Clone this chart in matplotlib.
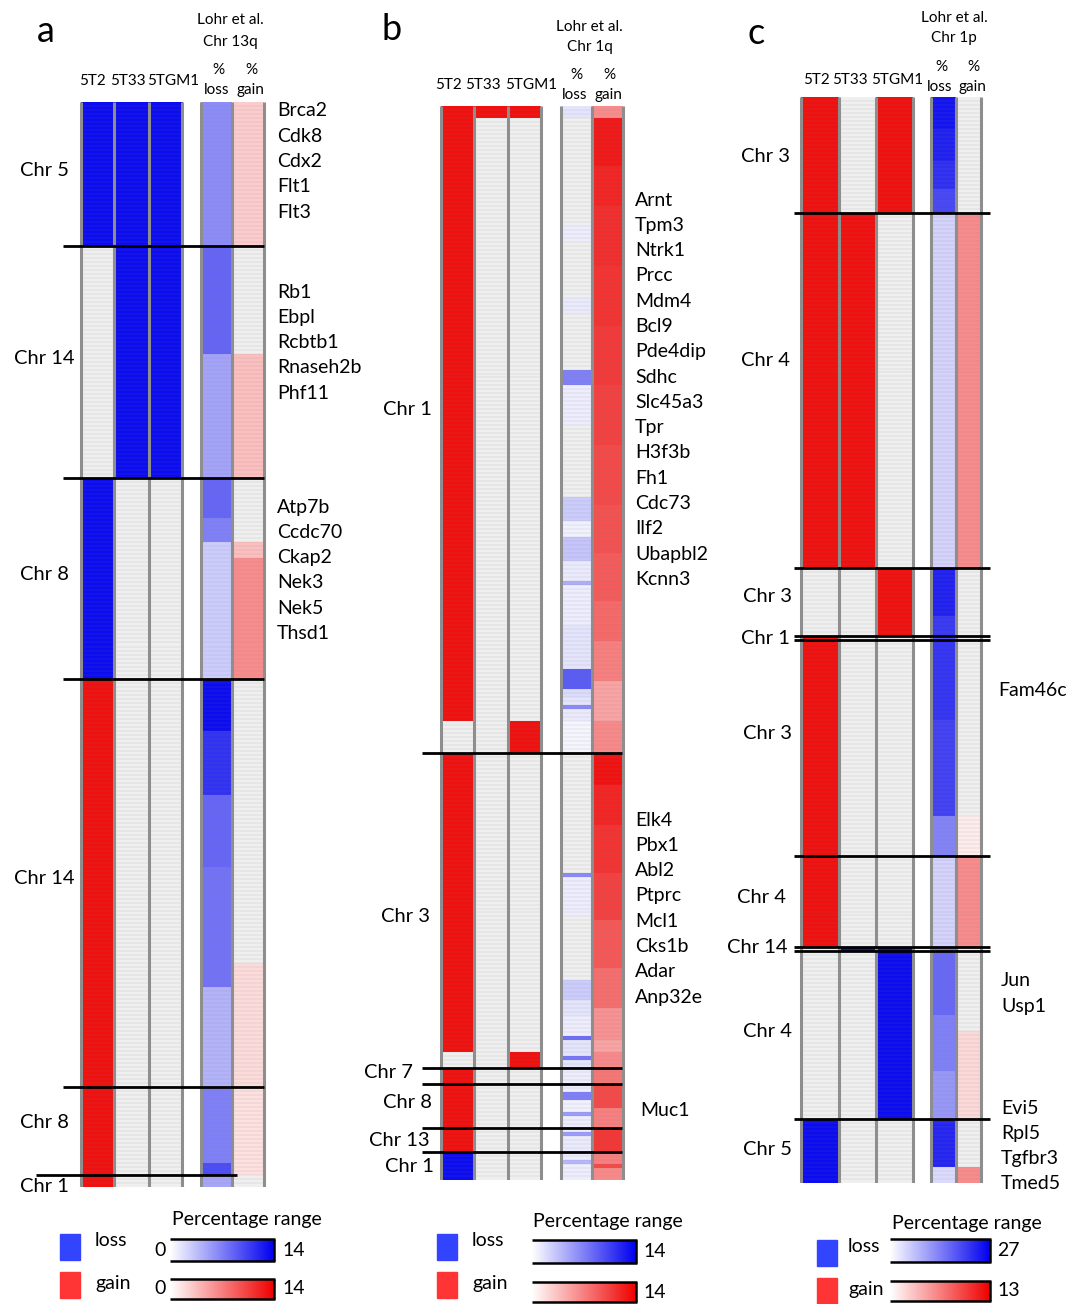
import numpy as np
import matplotlib
matplotlib.use("Agg")
import matplotlib.pyplot as plt
from matplotlib.colors import LinearSegmentedColormap, to_rgb
from matplotlib.patches import Rectangle

plt.rcParams["font.family"] = ["Lato", "DejaVu Sans"]

W, H = 1067, 1304

# ---------------- data ----------------
# each column is written as runs of gene rows: (number of rows, value)
# cell lines: -1 = loss, 0 = no change, 1 = gain
# Lohr et al. columns: % of patients with loss / gain
CELL_LINES = ["5T2", "5T33", "5TGM1"]

# a) Lohr et al. Chr 13q
A_REGION = "Chr 13q"
A_ROWS = 271
A_BOUNDS = [36, 94, 144, 246, 268]
A_CHR = ["Chr 5", "Chr 14", "Chr 8", "Chr 14", "Chr 8", "Chr 1"]
A_5T2 = [(36, -1), (58, 0), (50, -1), (127, 1)]
A_5T33 = [(94, -1), (177, 0)]
A_5TGM1 = [(94, -1), (177, 0)]
A_LOSS = [(36, 6.3), (27, 8.5), (31, 5.0), (10, 8.4), (6, 7.0), (34, 2.8),
          (13, 13.3), (16, 11.2), (18, 8.4), (30, 7.7), (25, 4.2),
          (19, 7.0), (3, 9.8), (3, 4.9)]
A_GAIN = [(36, 2.8), (27, 0), (31, 3.5), (16, 0), (4, 3.5), (30, 6.3),
          (71, 0), (31, 2.0), (22, 1.7), (3, 0)]
A_MAX = (14, 14)
A_GENES = [["Brca2", "Cdk8", "Cdx2", "Flt1", "Flt3"],
           ["Rb1", "Ebpl", "Rcbtb1", "Rnaseh2b", "Phf11"],
           ["Atp7b", "Ccdc70", "Ckap2", "Nek3", "Nek5", "Thsd1"]]

# b) Lohr et al. Chr 1q
B_REGION = "Chr 1q"
B_ROWS = 269
B_BOUNDS = [162, 241, 245, 256, 262]
B_CHR = ["Chr 1", "Chr 3", "Chr 7", "Chr 8", "Chr 13", "Chr 1"]
B_5T2 = [(154, 1), (8, 0), (75, 1), (4, 0), (21, 1), (7, -1)]
B_5T33 = [(3, 1), (266, 0)]
B_5TGM1 = [(3, 1), (151, 0), (8, 1), (75, 0), (4, 1), (28, 0)]
B_LOSS = [(3, 1.5), (27, 0), (4, 1.0), (14, 0), (4, 1.2), (14, 0), (4, 7.0),
          (10, 1.0), (18, 0), (6, 2.8), (4, 0.8), (6, 3.2), (5, 1.2), (1, 4.5),
          (10, 1.0), (11, 1.5), (5, 9.0), (2, 2.0), (2, 1.5), (1, 6.5), (3, 1.2),
          (8, 0.6),
          (30, 0), (1, 6.5), (10, 1.0), (16, 0), (5, 2.8), (4, 1.5), (5, 1.0),
          (1, 8.0), (4, 1.5), (1, 7.5), (2, 1.5),
          (4, 1.0),
          (2, 1.0), (2, 7.0), (3, 0.8), (1, 5.5), (3, 1.0),
          (1, 1.0), (1, 5.5), (4, 1.2),
          (2, 1.0), (1, 4.0), (4, 1.0)]
B_GAIN = [(3, 6.3), (12, 12.6), (10, 12.0), (15, 11.5), (15, 11.2), (15, 10.8),
          (15, 10.4), (15, 10.0), (12, 9.5), (12, 9.0), (10, 8.2), (10, 7.0),
          (10, 5.0), (8, 6.5),
          (8, 13.0), (10, 12.0), (12, 11.2), (12, 10.4), (12, 9.2), (10, 8.0),
          (8, 6.0), (3, 5.0), (4, 6.5),
          (4, 7.5),
          (6, 10.0), (5, 7.0),
          (6, 11.0),
          (3, 7.0), (1, 10.0), (3, 6.5)]
B_MAX = (14, 14)
B_GENES = [["Arnt", "Tpm3", "Ntrk1", "Prcc", "Mdm4", "Bcl9", "Pde4dip", "Sdhc",
            "Slc45a3", "Tpr", "H3f3b", "Fh1", "Cdc73", "Ilf2", "Ubapbl2", "Kcnn3"],
           ["Elk4", "Pbx1", "Abl2", "Ptprc", "Mcl1", "Cks1b", "Adar", "Anp32e"],
           ["Muc1"]]

# c) Lohr et al. Chr 1p
C_REGION = "Chr 1p"
C_ROWS = 272
C_BOUNDS = [29, 118, 135, 136, 190, 213, 214, 256]
C_CHR = ["Chr 3", "Chr 4", "Chr 3", "Chr 1", "Chr 3", "Chr 4", "Chr 14", "Chr 4", "Chr 5"]
C_5T2 = [(118, 1), (17, 0), (78, 1), (43, 0), (16, -1)]
C_5T33 = [(29, 0), (89, 1), (95, 0), (1, -1), (58, 0)]
C_5TGM1 = [(29, 1), (89, 0), (17, 1), (78, 0), (43, -1), (16, 0)]
C_LOSS = [(8, 24.8), (8, 23.5), (7, 22.0), (6, 19.5), (89, 4.6), (12, 23.5),
          (5, 21.0), (1, 18.0), (20, 21.5), (24, 20.0), (10, 13.0), (23, 4.6),
          (1, 13.5), (16, 16.0), (14, 13.5), (12, 11.0), (12, 23.0), (4, 4.0)]
C_GAIN = [(29, 0), (89, 5.9), (62, 0), (10, 1.0), (23, 5.9), (21, 0),
          (22, 2.0), (12, 0), (4, 5.9)]
C_MAX = (27, 13)
C_GENES = [["Fam46c"], ["Jun", "Usp1"], ["Evi5", "Rpl5", "Tgfbr3", "Tmed5"]]

# ---------------- style / layout ----------------
BLUE, RED, NEUTRAL = "#0c0cf0", "#ef1010", "#efefef"
BORDER = "#8e8e8e"
LOSS_CMAP = LinearSegmentedColormap.from_list("loss", ["#ffffff", "#0000f0"])
GAIN_CMAP = LinearSegmentedColormap.from_list("gain", ["#ffffff", "#f00000"])
GENE_STEP = 25.3
FS_HEAD, FS_CHR, FS_GENE, FS_LEG = 11, 14.5, 14, 14

PANELS = [
    dict(letter="a", letter_xy=(46, 32), region=A_REGION, rows=A_ROWS, bounds=A_BOUNDS,
         chr=A_CHR, cells=[A_5T2, A_5T33, A_5TGM1], loss=A_LOSS, gain=A_GAIN, vmax=A_MAX,
         top=102, bottom=1187, cell_x=[80.5, 114, 148.5, 182], lohr_x=[200.5, 232, 264],
         line_x=[(63, 264)] * 4 + [(36, 237)],
         chr_y=[17, 64, 118, 194, 255, 271], chr_x=[44] * 6, chr_ha="center",
         head_y=(20, 42, 70, 90, 81), cell_lab_x=[92, 128, 173], lohr_lab_x=(217, 250),
         genes=A_GENES, gene_pos=[(277, 111), (277, 292), (277, 507)],
         leg=dict(sq_x=60, loss_y=1234, gain_y=1272, txt_x=95, title=(247, 1219),
                  bar_x=(170, 274), loss_bar=(1239, 1261), gain_bar=(1279, 1299),
                  zero=True, max_x=282)),
    dict(letter="b", letter_xy=(392, 30), region=B_REGION, rows=B_ROWS, bounds=B_BOUNDS,
         chr=B_CHR, cells=[B_5T2, B_5T33, B_5TGM1], loss=B_LOSS, gain=B_GAIN, vmax=B_MAX,
         top=106, bottom=1180, cell_x=[441, 474, 508, 541], lohr_x=[561, 592, 622.5],
         line_x=[(422, 622)] * 5,
         chr_y=[76, 203, 242, 249.5, 259, 265.5], chr_x=[432, 430, 413, 432, 430, 434],
         chr_ha="right",
         head_y=(27, 47, 75, 95, 85), cell_lab_x=[448, 483, 531], lohr_lab_x=(575, 608),
         genes=B_GENES, gene_pos=[(635, 200), (635, 820), (640, 1110)],
         leg=dict(sq_x=437, loss_y=1234, gain_y=1272, txt_x=472, title=(608, 1221),
                  bar_x=(532, 636), loss_bar=(1240, 1263), gain_bar=(1282, 1302),
                  zero=False, max_x=643)),
    dict(letter="c", letter_xy=(756, 33), region=C_REGION, rows=C_ROWS, bounds=C_BOUNDS,
         chr=C_CHR, cells=[C_5T2, C_5T33, C_5TGM1], loss=C_LOSS, gain=C_GAIN, vmax=C_MAX,
         top=97, bottom=1183, cell_x=[801, 839, 876, 913], lohr_x=[931, 956, 981],
         line_x=[(794, 990)] * 8,
         chr_y=[15, 66, 125, 135.5, 159.5, 200.5, 213, 234, 263.5],
         chr_x=[790, 790, 792, 790, 792, 786, 788, 792, 792], chr_ha="right",
         head_y=(18, 38, 67, 87, 80), cell_lab_x=[816, 850, 897], lohr_lab_x=(940, 972),
         genes=C_GENES, gene_pos=[(998, 690), (1001, 981), (1001, 1108)],
         leg=dict(sq_x=817, loss_y=1240, gain_y=1278, txt_x=848, title=(967, 1223),
                  bar_x=(890, 990), loss_bar=(1239, 1262), gain_bar=(1281, 1301),
                  zero=False, max_x=997)),
]


def expand(runs):
    return np.concatenate([np.full(n, v, dtype=float) for n, v in runs])


def cell_rgb(vals):
    out = np.array([to_rgb(BLUE if v < 0 else RED if v > 0 else NEUTRAL) for v in vals])
    return out[:, None, :]


def lohr_rgb(vals, cmap, vmax):
    out = cmap(np.clip(vals / vmax, 0, 1))[:, :3]
    out[vals == 0] = to_rgb(NEUTRAL)
    return out[:, None, :]


fig = plt.figure(figsize=(W / 100, H / 100), dpi=100)
bg = fig.add_axes([0, 0, 1, 1])
bg.set_xlim(0, W)
bg.set_ylim(H, 0)
bg.axis("off")

for p in PANELS:
    rows = p["rows"]
    ax = fig.add_axes([0, 1 - p["bottom"] / H, 1, (p["bottom"] - p["top"]) / H])
    ax.axis("off")
    images = [cell_rgb(expand(r)) for r in p["cells"]]
    images.append(lohr_rgb(expand(p["loss"]), LOSS_CMAP, p["vmax"][0]))
    images.append(lohr_rgb(expand(p["gain"]), GAIN_CMAP, p["vmax"][1]))
    edges = list(zip(p["cell_x"][:-1], p["cell_x"][1:])) + list(zip(p["lohr_x"][:-1], p["lohr_x"][1:]))
    for img, (x0, x1) in zip(images, edges):
        ax.imshow(img, extent=(x0, x1, rows, 0), aspect="auto", interpolation="nearest")
        ax.hlines(np.arange(1, rows), x0, x1, colors="#808080", lw=0.35, alpha=0.3)
    ax.vlines(p["cell_x"] + p["lohr_x"], 0, rows, colors=BORDER, lw=2.2)
    ax.set_xlim(0, W)
    ax.set_ylim(rows, 0)
    for b, (x0, x1) in zip(p["bounds"], p["line_x"]):
        ax.plot([x0, x1], [b, b], color="black", lw=2, clip_on=False, solid_capstyle="butt")
    for name, y, x in zip(p["chr"], p["chr_y"], p["chr_x"]):
        ax.text(x, y, name, ha=p["chr_ha"], va="center", fontsize=FS_CHR, clip_on=False)

    # headers
    lx, ly = p["letter_xy"]
    bg.text(lx, ly, p["letter"], ha="center", va="center", fontsize=26)
    hy = p["head_y"]
    mid = np.mean(p["lohr_x"][::2]) - 2
    bg.text(mid, hy[0], "Lohr et al.", ha="center", va="center", fontsize=FS_HEAD)
    bg.text(mid, hy[1], p["region"], ha="center", va="center", fontsize=FS_HEAD)
    for x, lab in zip(p["lohr_lab_x"], ["loss", "gain"]):
        bg.text(x + 1, hy[2], "%", ha="center", va="center", fontsize=FS_HEAD)
        bg.text(x, hy[3], lab, ha="center", va="center", fontsize=FS_HEAD)
    for x, lab in zip(p["cell_lab_x"], CELL_LINES):
        bg.text(x, hy[4], lab, ha="center", va="center", fontsize=FS_HEAD)

    # gene names
    for names, (gx, gy) in zip(p["genes"], p["gene_pos"]):
        for i, name in enumerate(names):
            bg.text(gx, gy + i * GENE_STEP, name, ha="left", va="center", fontsize=FS_GENE)

    # legend
    lg = p["leg"]
    bg.add_patch(Rectangle((lg["sq_x"], lg["loss_y"]), 20, 26, color="#3344ff"))
    bg.add_patch(Rectangle((lg["sq_x"], lg["gain_y"]), 20, 26, color="#ff3434"))
    bg.text(lg["txt_x"], lg["loss_y"] + 7, "loss", ha="left", va="center", fontsize=FS_LEG)
    bg.text(lg["txt_x"], lg["gain_y"] + 11, "gain", ha="left", va="center", fontsize=FS_LEG)
    bg.text(*lg["title"], "Percentage range", ha="center", va="center", fontsize=FS_LEG)
    x0, x1 = lg["bar_x"]
    grad = np.linspace(0, 1, 256)[None, :]
    for (y0, y1), cmap, vmax in zip([lg["loss_bar"], lg["gain_bar"]], [LOSS_CMAP, GAIN_CMAP], p["vmax"]):
        bg.imshow(grad, extent=(x0, x1, y1, y0), cmap=cmap, aspect="auto")
        bg.hlines([y0, y1], x0, x1 + 1, colors="black", lw=1.8)
        bg.vlines(x1, y0, y1, colors="black", lw=1.8)
        bg.text(lg["max_x"], (y0 + y1) / 2, str(vmax), ha="left", va="center", fontsize=FS_LEG)
        if lg["zero"]:
            bg.text(x0 - 10, (y0 + y1) / 2, "0", ha="center", va="center", fontsize=FS_LEG)

bg.set_xlim(0, W)
bg.set_ylim(H, 0)
fig.savefig("out.png", dpi=100)
